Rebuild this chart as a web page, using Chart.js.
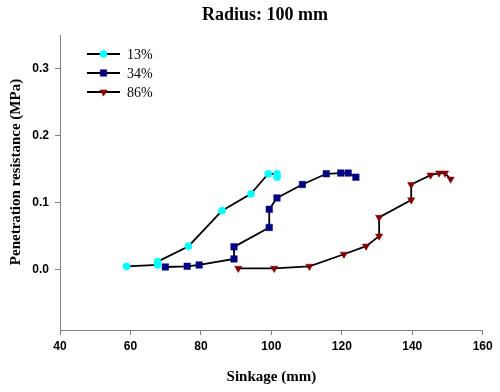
<!DOCTYPE html>
<html>
<head>
<meta charset="utf-8">
<script src="https://cdn.jsdelivr.net/npm/chart.js@4.4.1/dist/chart.umd.min.js"></script>
<style>
html,body{margin:0;padding:0;background:#fff;}
#wrap{width:500px;height:392px;position:relative;}
</style>
</head>
<body>
<div id="wrap"><canvas id="c" width="500" height="392"></canvas></div>
<script>
const chartTitle = "Radius: 100 mm";
const xTitle = "Sinkage (mm)";
const yTitle = "Penetration resistance (MPa)";
const seriesNames = ["13%", "34%", "86%"];
const xTicks = [40, 60, 80, 100, 120, 140, 160];
const yTicks = [0.0, 0.1, 0.2, 0.3];

const s13x = [58.9, 67.7, 67.7, 76.5, 86.0, 94.2, 99.1, 101.6, 101.6];
const s13y = [0.005, 0.007, 0.012, 0.035, 0.088, 0.113, 0.143, 0.143, 0.138];

const s34x = [69.9, 76.1, 79.5, 89.4, 89.4, 99.4, 99.4, 101.6, 108.8, 115.6, 119.7, 121.8, 124.0];
const s34y = [0.004, 0.005, 0.007, 0.016, 0.034, 0.063, 0.090, 0.107, 0.127, 0.143, 0.144, 0.144, 0.138];

const s86x = [90.6, 100.8, 110.8, 120.6, 126.9, 130.6, 130.6, 139.7, 139.7, 145.2, 147.6, 149.3, 150.9];
const s86y = [0.002, 0.002, 0.005, 0.023, 0.035, 0.050, 0.078, 0.104, 0.127, 0.141, 0.144, 0.144, 0.135];

function pts(xs, ys){ return xs.map((x,i)=>({x:x, y:ys[i]})); }

const styles = [
  {color:'#00FFFF', pointStyle:'circle', radius:3.6, rotation:0},
  {color:'#000080', pointStyle:'rect', radius:4.6, rotation:0},
  {color:'#800000', pointStyle:'triangle', radius:4.2, rotation:180}
];
const allData = [pts(s13x,s13y), pts(s34x,s34y), pts(s86x,s86y)];

const datasets = allData.map((d,i)=>({
  label: seriesNames[i],
  data: d,
  showLine: true,
  borderColor: '#000000',
  borderWidth: 1.8,
  pointStyle: styles[i].pointStyle,
  pointRadius: styles[i].radius,
  pointRotation: styles[i].rotation,
  pointBackgroundColor: styles[i].color,
  pointBorderColor: styles[i].color,
  pointBorderWidth: 0.5,
  tension: 0
}));

const textPlugin = {
  id: 'texts',
  afterDraw(chart){
    const ctx = chart.ctx;
    const ca = chart.chartArea;
    ctx.save();
    ctx.fillStyle = '#000';
    ctx.textAlign = 'center';
    ctx.textBaseline = 'middle';
    ctx.font = 'bold 18px "Liberation Serif", "Times New Roman", serif';
    ctx.fillText(chartTitle, 265, 15);
    ctx.font = 'bold 15px "Liberation Serif", "Times New Roman", serif';
    ctx.fillText(xTitle, (ca.left+ca.right)/2, 377);
    ctx.save();
    ctx.translate(16, 172);
    ctx.rotate(-Math.PI/2);
    ctx.fillText(yTitle, 0, 0);
    ctx.restore();
    // legend
    ctx.font = '14px "Liberation Serif", "Times New Roman", serif';
    ctx.textAlign = 'left';
    const rowsY = [54, 73, 92];
    chart.data.datasets.forEach((ds, i)=>{
      const y = rowsY[i];
      ctx.strokeStyle = '#000';
      ctx.lineWidth = 1.8;
      ctx.beginPath();
      ctx.moveTo(87, y); ctx.lineTo(120, y);
      ctx.stroke();
      ctx.fillStyle = styles[i].color;
      ctx.strokeStyle = styles[i].color;
      ctx.lineWidth = 0.5;
      Chart.helpers.drawPoint(ctx, {pointStyle: styles[i].pointStyle, radius: styles[i].radius, rotation: styles[i].rotation, borderWidth:0.5}, 103.5, y);
      ctx.fillStyle = '#000';
      ctx.fillText(ds.label, 127, y+1);
    });
    ctx.restore();
  }
};

new Chart(document.getElementById('c'), {
  type: 'scatter',
  data: { datasets },
  options: {
    responsive: false,
    animation: false,
    layout: { padding: { top: 35, right: 17.3, left: 0, bottom: 0 } },
    plugins: { legend: { display: false }, title: { display: false }, tooltip: { enabled: false } },
    scales: {
      x: {
        type: 'linear',
        min: 40, max: 160,
        afterBuildTicks: (s)=>{ s.ticks = xTicks.map(v=>({value:v})); },
        afterFit: (s)=>{ s.height = 62; },
        grid: { drawOnChartArea: false, drawTicks: true, tickLength: 5, color: '#808080', lineWidth: 1 },
        border: { display: true, color: '#808080', width: 1 },
        ticks: { color: '#000', padding: 4, font: { family: '"Liberation Sans", Arial, sans-serif', size: 12, weight: 'bold' }, maxRotation: 0 }
      },
      y: {
        type: 'linear',
        min: -0.09, max: 0.35,
        afterBuildTicks: (s)=>{ s.ticks = yTicks.map(v=>({value:v})); },
        afterFit: (s)=>{ s.width = 60; },
        grid: { drawOnChartArea: false, drawTicks: true, tickLength: 5, color: '#808080', lineWidth: 1 },
        border: { display: true, color: '#808080', width: 1 },
        ticks: { color: '#000', padding: 6, font: { family: '"Liberation Sans", Arial, sans-serif', size: 12, weight: 'bold' }, callback: (v)=>Number(v).toFixed(1) }
      }
    }
  },
  plugins: [textPlugin]
});
</script>
</body>
</html>
